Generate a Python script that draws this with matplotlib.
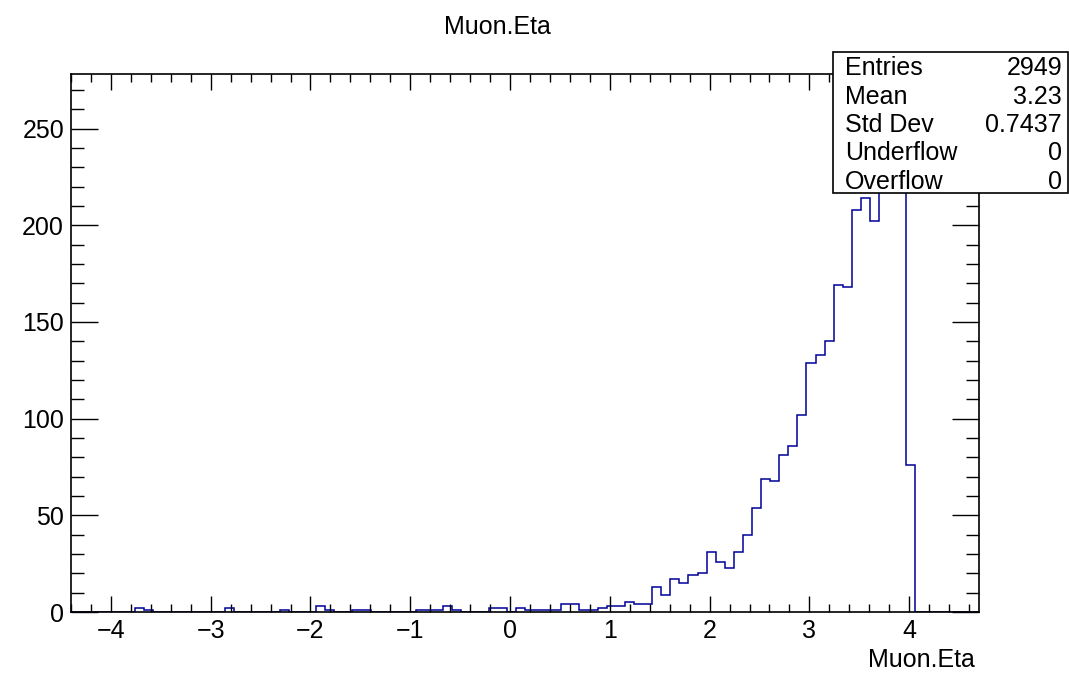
import numpy as np
import matplotlib
matplotlib.use("Agg")
import matplotlib.pyplot as plt
from matplotlib.ticker import MultipleLocator
from matplotlib.patches import Rectangle

plt.rcParams['font.family'] = ['Liberation Sans', 'DejaVu Sans']

# histogram binning (100 bins, ROOT auto range)
x_lo = -4.4
x_hi = 4.7
n_bins = 100

counts = [
    0, 0, 0, 0, 0, 0, 0, 2, 1, 0,
    0, 0, 0, 0, 0, 0, 0, 2, 0, 0,
    0, 0, 0, 1, 0, 0, 0, 3, 1, 0,
    0, 1, 1, 0, 0, 0, 0, 0, 1, 1,
    1, 3, 1, 0, 0, 0, 2, 2, 0, 2,
    1, 1, 1, 1, 4, 4, 1, 1, 2, 3,
    3, 5, 4, 4, 13, 9, 17, 15, 19, 20,
    31, 26, 23, 31, 40, 54, 69, 68, 81, 86,
    102, 129, 133, 140, 169, 168, 208, 214, 202, 232,
    249, 265, 76, 0, 0, 0, 0, 0, 0, 0,
]

stat_names = ["Entries", "Mean", "Std Dev", "Underflow", "Overflow"]
stat_values = ["2949", "3.23", "0.7437", "0", "0"]

edges = np.linspace(x_lo, x_hi, n_bins + 1)

W, H = 1069, 675
fig = plt.figure(figsize=(W / 100, H / 100), dpi=100)
ax = fig.add_axes([71 / W, 1 - 612 / H, (979 - 71) / W, (612 - 74) / H])

ax.stairs(counts, edges, color='#000099', linewidth=1.1, baseline=0)

ax.set_xlim(x_lo, x_hi)
ax.set_ylim(0, max(counts) * 1.05)

ax.xaxis.set_major_locator(MultipleLocator(1))
ax.xaxis.set_minor_locator(MultipleLocator(0.2))
ax.yaxis.set_major_locator(MultipleLocator(50))
ax.yaxis.set_minor_locator(MultipleLocator(10))

ax.tick_params(axis='both', which='both', direction='in', top=True, right=True,
               labelsize=18, color='black', width=1.0)
ax.tick_params(axis='x', which='major', length=11.5, pad=5)
ax.tick_params(axis='x', which='minor', length=5.8)
ax.tick_params(axis='y', which='major', length=19.5, pad=5)
ax.tick_params(axis='y', which='minor', length=9.7)
for s in ax.spines.values():
    s.set_linewidth(1.2)

fig.text(497 / W, 1 - 27 / H, "Muon.Eta", ha='center', va='center', fontsize=18)
fig.text(975 / W, 1 - 660 / H, "Muon.Eta", ha='right', va='center', fontsize=18)

# stats box
box = Rectangle((833 / W, 1 - 193 / H), (1068 - 833) / W, (193 - 52) / H,
                transform=fig.transFigure, facecolor='white', edgecolor='black',
                linewidth=1.2, zorder=5)
fig.patches.append(box)
for i, (nm, val) in enumerate(zip(stat_names, stat_values)):
    yy = 1 - (68 + i * 28.5) / H
    fig.text(845 / W, yy, nm, ha='left', va='center', fontsize=18, zorder=6)
    fig.text(1062 / W, yy, val, ha='right', va='center', fontsize=18, zorder=6)

fig.savefig("out.png", dpi=100)
